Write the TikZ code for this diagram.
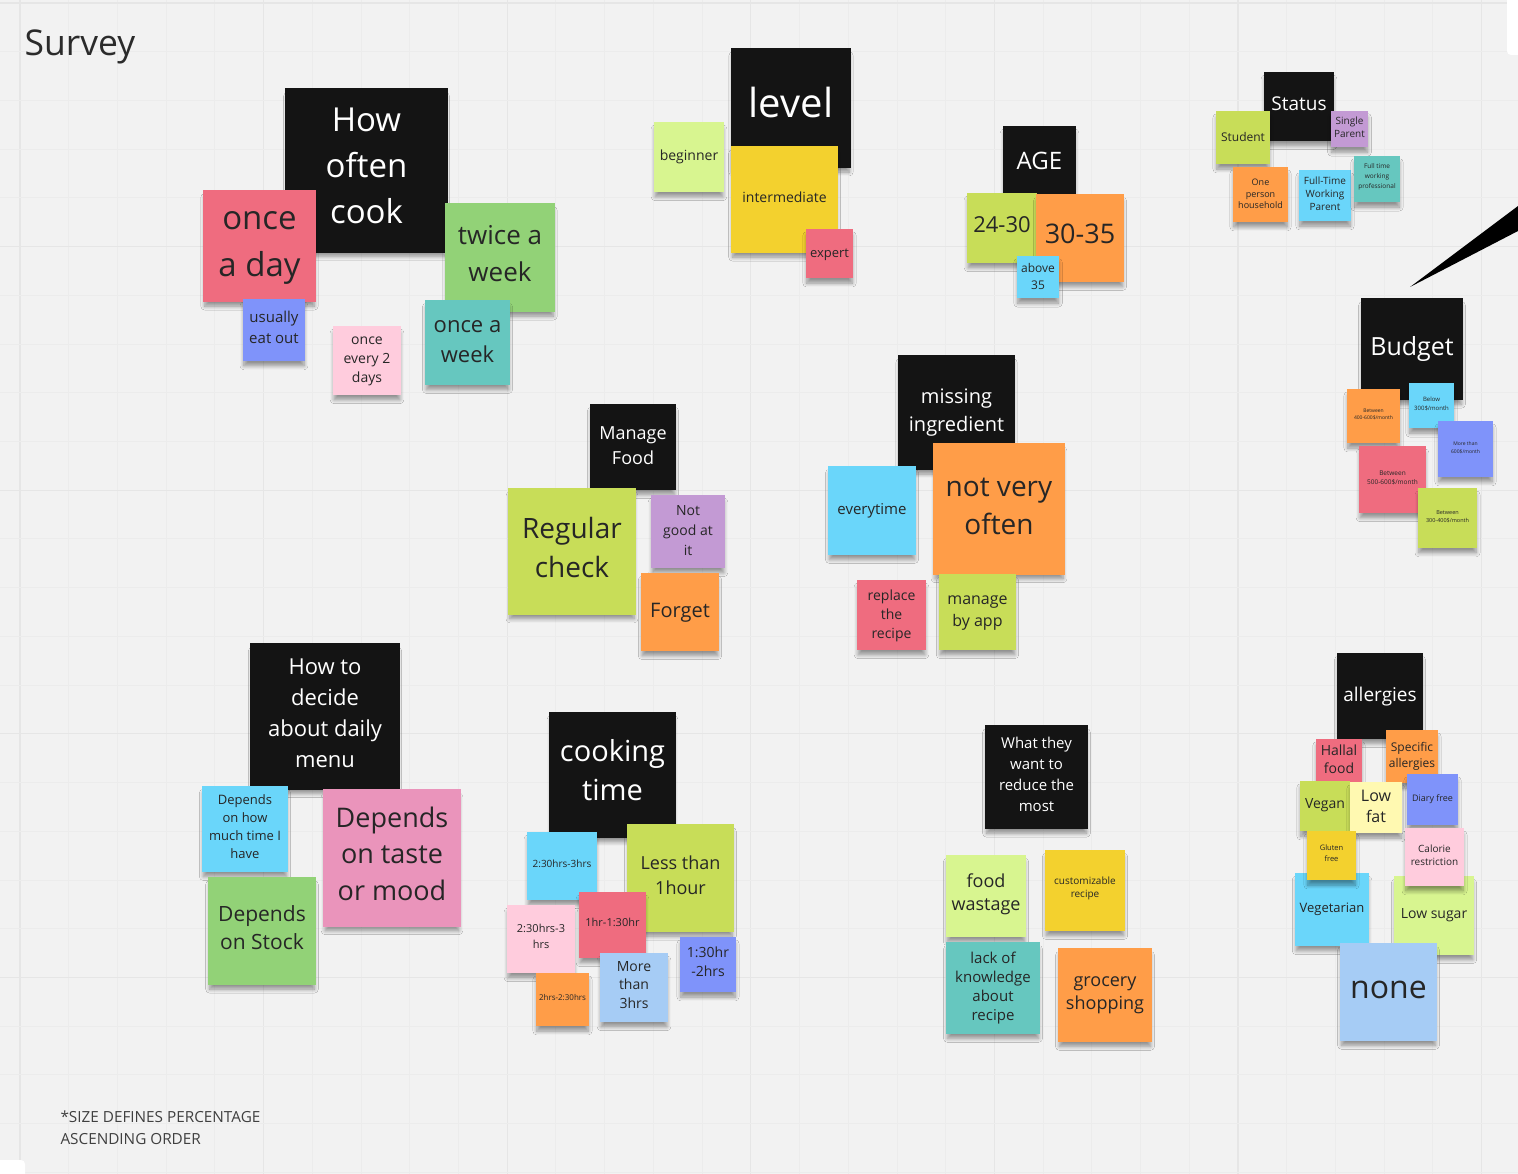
\documentclass[tikz,border=0pt]{standalone}
\usepackage{fontspec}
\setmainfont{Open Sans}
\usetikzlibrary{shadows.blur}

\definecolor{board}{HTML}{F2F2F2}
\definecolor{gridminor}{HTML}{ECECEC}
\definecolor{gridmajor}{HTML}{E6E6E6}
\definecolor{inktext}{HTML}{262626}
\definecolor{titleink}{HTML}{2B2B2B}
\definecolor{footink}{HTML}{404040}
\definecolor{stBlack}{HTML}{141414}
\definecolor{stRed}{HTML}{EF6C7F}
\definecolor{stDarkBlue}{HTML}{7F93FA}
\definecolor{stLightPink}{HTML}{FFCCDD}
\definecolor{stDarkGreen}{HTML}{92D277}
\definecolor{stCyan}{HTML}{66C7BF}
\definecolor{stLightGreen}{HTML}{D8F590}
\definecolor{stYellow}{HTML}{F3D12E}
\definecolor{stGreen}{HTML}{C8DD58}
\definecolor{stOrange}{HTML}{FF9D48}
\definecolor{stBlue}{HTML}{6AD6FA}
\definecolor{stViolet}{HTML}{C39AD4}
\definecolor{stPink}{HTML}{EA94BB}
\definecolor{stLightBlue}{HTML}{A6CCF5}
\definecolor{stLightYellow}{HTML}{FFF9B1}

\def\tshiftval{0}
\tikzset{
  tshift/.store in=\tshiftval,
  note/.style={draw=none, inner sep=0pt,
    blur shadow={shadow xshift=0pt, shadow yshift=-6pt, shadow scale=0.97,
      shadow opacity=40, shadow blur steps=8, shadow blur radius=4pt}},
  notetext/.style={inner sep=0pt, align=center, text=inktext},
  cBlack/.style={fill=stBlack, text=white},
  cRed/.style={fill=stRed},
  cDarkBlue/.style={fill=stDarkBlue},
  cLightPink/.style={fill=stLightPink},
  cDarkGreen/.style={fill=stDarkGreen},
  cCyan/.style={fill=stCyan},
  cLightGreen/.style={fill=stLightGreen},
  cYellow/.style={fill=stYellow},
  cGreen/.style={fill=stGreen},
  cOrange/.style={fill=stOrange},
  cBlue/.style={fill=stBlue},
  cViolet/.style={fill=stViolet},
  cPink/.style={fill=stPink},
  cLightBlue/.style={fill=stLightBlue},
  cLightYellow/.style={fill=stLightYellow},
}

% sticky note: name, colour style (plus optional tshift), left, top, width, height,
% font size, leading, text
\newcommand\sticky[9]{%
  \node[note,#2,minimum width=#5pt,minimum height=#6pt] (#1) at ({#3+#5/2},{#4+#6/2}) {};
  \node[notetext,#2,fill=none,font=\fontsize{#7}{#8}\selectfont,
        yshift={0.12*#7+1-\tshiftval}] (#1-text) at (#1.center) {#9};}

\begin{document}
\begin{tikzpicture}[x=1pt,y=-1pt]
\useasboundingbox (0,0) rectangle (1518,1174);
\fill[board] (0,0) rectangle (1518,1174);

% board grid
\foreach \i in {-1,...,30}{
  \pgfmathtruncatemacro\m{mod(\i+5,5)}
  \ifnum\m=0
    \draw[gridmajor, line width=1.1pt] ({20+48.72*\i},0) -- ({20+48.72*\i},1174);
  \else
    \draw[gridminor, line width=0.9pt] ({20+48.72*\i},0) -- ({20+48.72*\i},1174);
  \fi}
\foreach \j in {0,...,24}{
  \pgfmathtruncatemacro\m{mod(\j,5)}
  \ifnum\m=0
    \draw[gridmajor, line width=1.1pt] (0,{3+48.72*\j}) -- (1518,{3+48.72*\j});
  \else
    \draw[gridminor, line width=0.9pt] (0,{3+48.72*\j}) -- (1518,{3+48.72*\j});
  \fi}

% panels at the corners
\fill[white, rounded corners=4pt] (1507,-10) rectangle (1530,55);
\fill[white, rounded corners=4pt] (-10,1160) rectangle (25,1185);

% title and footnote
\node[anchor=west, text=titleink, font=\fontsize{35.5}{42}\selectfont] (title) at (21,47) {Survey};
\node[anchor=north west, align=left, text=footink, font=\fontsize{15.3}{22}\selectfont]
  (footnote) at (57,1107) {*SIZE DEFINES PERCENTAGE\\ASCENDING ORDER};

% pointer wedge
\fill[black, line join=round] (1410,287) -- (1518,206) -- (1518,231) -- cycle;

% how often cook
\sticky{howoften}{cBlack}{285}{88}{163}{165}{33}{46}{How\\often\\cook}
\sticky{oncedaily}{cRed,tshift=7}{203}{190}{113}{112}{33}{47}{once\\a day}
\sticky{eatout}{cDarkBlue}{243}{299}{62}{62}{15}{21}{usually\\eat out}
\sticky{everytwo}{cLightPink,tshift=4}{333}{326}{68}{69}{14}{19}{once\\every 2\\days}
\sticky{twiceweek}{cDarkGreen}{445}{203}{110}{109}{26}{37}{twice a\\week}
\sticky{onceweek}{cCyan,tshift=2.5}{425}{300}{85}{85}{22}{30}{once a\\week}

% level
\sticky{level}{cBlack}{731}{48}{120}{120}{40}{48}{level}
\sticky{beginner}{cLightGreen,tshift=3}{654}{122}{70}{70}{14}{19}{beginner}
\sticky{intermediate}{cYellow}{731}{146}{107}{107}{14}{19}{intermediate}
\sticky{expert}{cRed,tshift=4}{806}{229}{47}{49}{13}{18}{expert}

% age
\sticky{age}{cBlack,tshift=2}{1003}{126}{73}{73}{24}{30}{AGE}
\sticky{agea}{cGreen}{967}{193}{70}{70}{22}{28}{24-30}
\sticky{ageb}{cOrange}{1036}{194}{88}{88}{27}{34}{30-35}
\sticky{agec}{cBlue,tshift=2}{1017}{256}{42}{42}{12}{17}{above\\35}

% status
\sticky{status}{cBlack}{1264}{72}{70}{69}{19}{24}{Status}
\sticky{student}{cGreen,tshift=2}{1216}{111}{54}{53}{12}{16}{Student}
\sticky{single}{cViolet}{1331}{111}{37}{36}{10}{13}{Single\\Parent}
\sticky{oneperson}{cOrange,tshift=1.5}{1233}{167}{55}{55}{9}{11.5}{One\\person\\household}
\sticky{ftparent}{cBlue}{1299}{170}{52}{51}{10}{13}{Full-Time\\Working\\Parent}
\sticky{ftpro}{cCyan}{1354}{156}{46}{46}{6.5}{10}{Full time\\working\\professional}

% budget
\sticky{budget}{cBlack,tshift=4}{1361}{298}{102}{102}{25}{32}{Budget}
\sticky{bfourhundred}{cOrange}{1347}{389}{53}{54}{5}{7.5}{Between\\400-600\$/month}
\sticky{bthreehundred}{cBlue}{1409}{383}{45}{45}{6}{9}{Below\\300\$/month}
\sticky{bsixhundred}{cDarkBlue}{1438}{421}{55}{56}{5}{8}{More than\\600\$/month}
\sticky{bfivehundred}{cRed}{1359}{446}{67}{67}{6.5}{9}{Between\\500-600\$/month}
\sticky{bthreefour}{cGreen}{1418}{488}{59}{60}{5.5}{8}{Between\\300-400\$/month}

% manage food
\sticky{manage}{cBlack,tshift=2}{590}{404}{86}{86}{18}{25}{Manage\\Food}
\sticky{regular}{cGreen}{508}{488}{128}{127}{28}{39}{Regular\\check}
\sticky{notgood}{cViolet,tshift=2}{651}{495}{74}{73}{14}{20}{Not\\good at\\it}
\sticky{forget}{cOrange,tshift=4}{641}{573}{78}{78}{20}{26}{Forget}

% missing ingredient
\sticky{missing}{cBlack,tshift=3}{898}{355}{117}{115}{20}{28}{missing\\ingredient}
\sticky{notoften}{cOrange,tshift=2}{933}{443}{132}{132}{28}{38}{not very\\often}
\sticky{everytime}{cBlue,tshift=3}{828}{466}{88}{89}{15}{20}{everytime}
\sticky{replace}{cRed,tshift=4}{857}{580}{69}{70}{14}{19}{replace\\the\\recipe}
\sticky{byapp}{cGreen,tshift=4}{939}{574}{77}{76}{16}{22}{manage\\by app}

% daily menu
\sticky{decide}{cBlack}{250}{643}{150}{147}{22}{31}{How to\\decide\\about daily\\menu}
\sticky{deptime}{cBlue}{202}{786}{86}{86}{13}{18}{Depends\\on how\\much time I\\have}
\sticky{deptaste}{cPink}{323}{789}{138}{138}{27}{36.5}{Depends\\on taste\\or mood}
\sticky{depstock}{cDarkGreen}{208}{877}{108}{108}{21}{28}{Depends\\on Stock}

% cooking time
\sticky{cooking}{cBlack}{549}{712}{127}{126}{29}{39}{cooking\\time}
\sticky{lessone}{cGreen}{627}{824}{107}{108}{18}{25}{Less than\\1hour}
\sticky{tblue}{cBlue}{527}{832}{70}{68}{10}{13}{2:30hrs-3hrs}
\sticky{tred}{cRed}{579}{892}{67}{66}{11}{14}{1hr-1:30hr}
\sticky{tpink}{cLightPink}{507}{905}{68}{68}{11}{16}{2:30hrs-3\\hrs}
\sticky{tmore}{cLightBlue}{600}{953}{68}{69}{14}{18.5}{More\\than\\3hrs}
\sticky{torange}{cOrange}{536}{973}{53}{53}{8}{10}{2hrs-2:30hrs}
\sticky{tdblue}{cDarkBlue}{680}{937}{56}{55}{14}{19}{1:30hr\\-2hrs}

% what to reduce
\sticky{reduce}{cBlack}{985}{725}{103}{104}{15}{21}{What they\\want to\\reduce the\\most}
\sticky{wastage}{cLightGreen,tshift=1.5}{946}{855}{80}{82}{18}{23}{food\\wastage}
\sticky{custom}{cYellow}{1045}{850}{80}{81}{10}{13}{customizable\\recipe}
\sticky{lack}{cCyan,tshift=2.5}{946}{942}{94}{92}{15}{19}{lack of\\knowledge\\about\\recipe}
\sticky{grocery}{cOrange,tshift=3}{1058}{948}{94}{94}{18}{23}{grocery\\shopping}

% allergies
\sticky{allergies}{cBlack,tshift=4}{1337}{653}{86}{86}{19}{24}{allergies}
\sticky{hallal}{cRed}{1316}{739}{46}{46}{14}{18}{Hallal\\food}
\sticky{specific}{cOrange,tshift=2}{1386}{730}{52}{53}{12}{16}{Specific\\allergies}
\sticky{vegan}{cGreen,tshift=2}{1300}{781}{50}{50}{14}{18}{Vegan}
\sticky{lowfat}{cLightYellow,tshift=2}{1350}{782}{52}{51}{16}{21}{Low\\fat}
\sticky{diary}{cDarkBlue,tshift=2}{1407}{774}{51}{51}{9}{12}{Diary free}
\sticky{lowsugar}{cLightGreen,tshift=2}{1394}{876}{80}{79}{14}{18}{Low sugar}
\sticky{calorie}{cLightPink}{1405}{828}{59}{58}{10}{13}{Calorie\\restriction}
\sticky{vegetarian}{cBlue,tshift=2}{1295}{873}{74}{73}{13}{17}{Vegetarian}
\sticky{gluten}{cYellow}{1307}{831}{49}{49}{7.5}{11}{Gluten\\free}
\sticky{none}{cLightBlue,tshift=3}{1340}{943}{97}{98}{32}{40}{none}
\end{tikzpicture}
\end{document}
